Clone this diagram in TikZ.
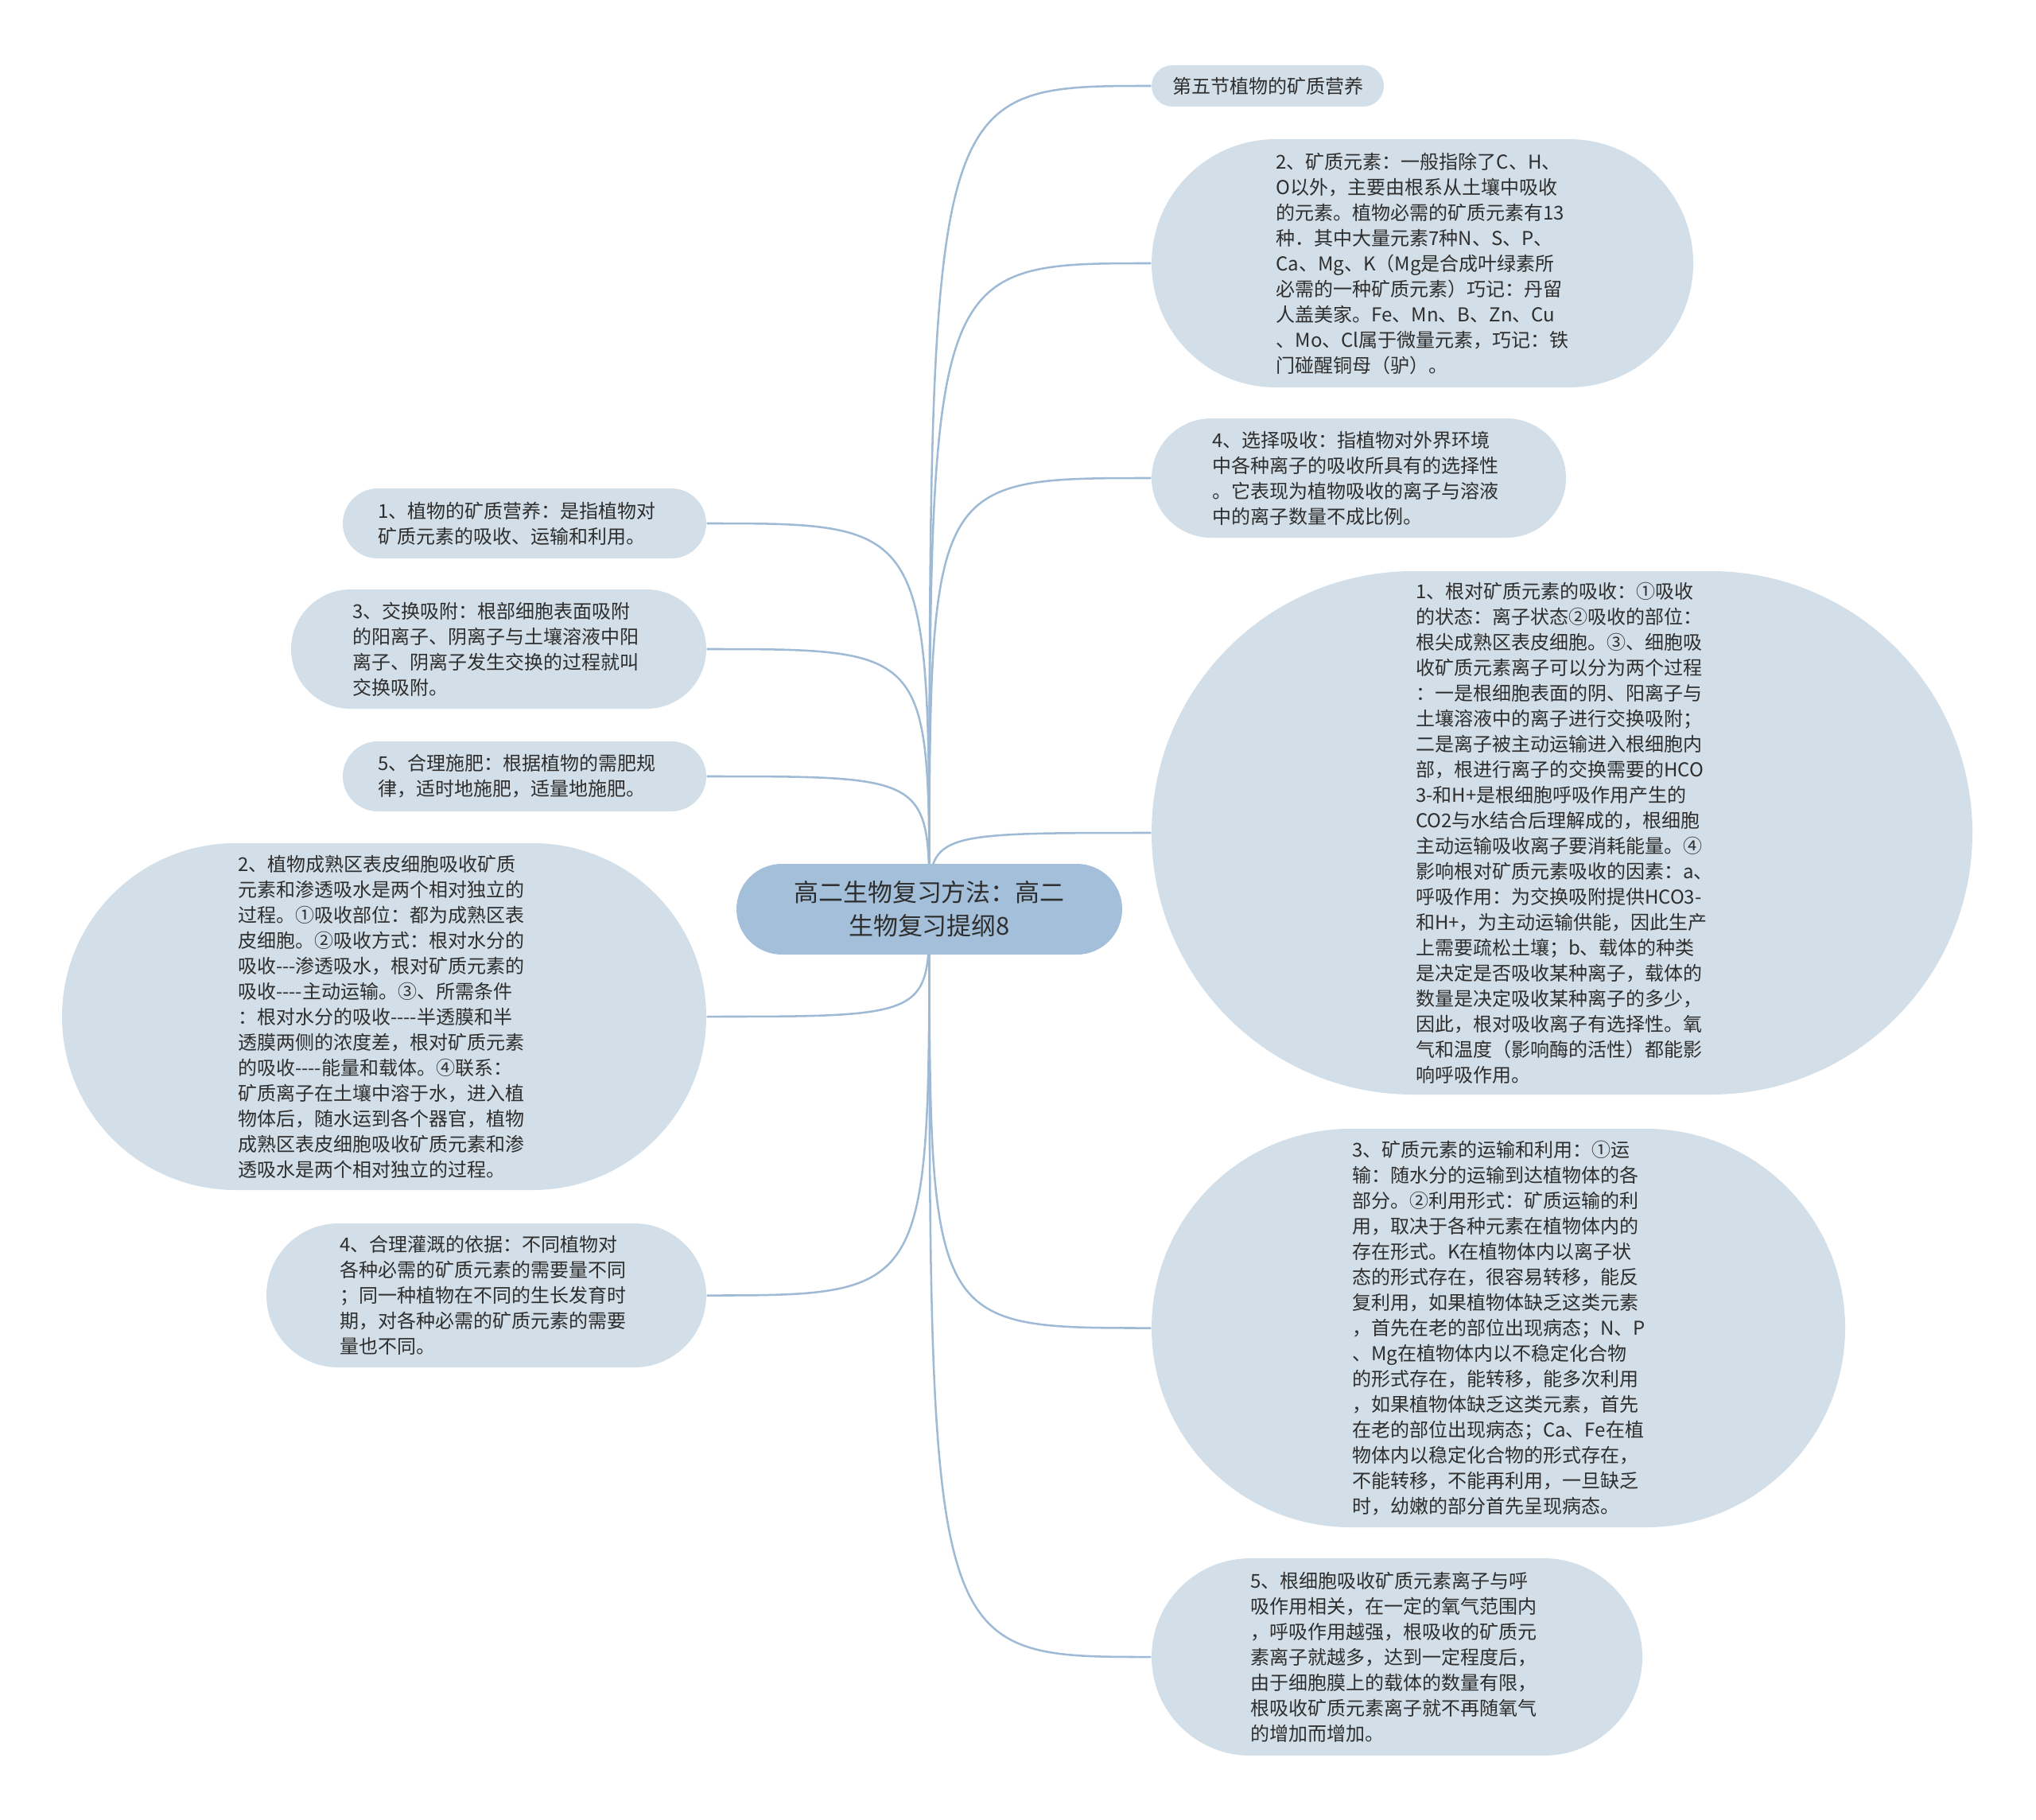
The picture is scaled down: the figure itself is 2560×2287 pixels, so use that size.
\documentclass[tikz,border=0pt]{standalone}
\usepackage{fontspec}
\newfontfamily\cjkfont{Noto Sans CJK SC}
\usetikzlibrary{shapes.misc}
\definecolor{hubblue}{HTML}{A3BFD9}
\definecolor{leafblue}{HTML}{D3DFE8}
\definecolor{linkblue}{HTML}{9FBAD4}
\definecolor{inkgray}{HTML}{2E2E2E}
\pgfdeclarelayer{background}
\pgfsetlayers{background,main}
\tikzset{
  leaf/.style 2 args={rounded rectangle,fill=leafblue,text=inkgray,
    minimum width=#1*0.375pt,minimum height=#2*0.375pt,inner sep=0pt,
    text width=138pt,align=left,font=\cjkfont\fontsize{9}{12}\selectfont},
  hubnode/.style={rounded rectangle,fill=hubblue,text=inkgray,
    minimum width=485*0.375pt,minimum height=114*0.375pt,inner sep=0pt,
    align=center,font=\cjkfont\fontsize{11.6}{15.8}\selectfont},
  link/.style={draw=linkblue,line width=0.95pt}
}

\begin{document}
\begin{tikzpicture}[x=0.375pt,y=-0.375pt]
    \useasboundingbox (0,0) rectangle (2560,2287);
    % centre
    \node[hubnode] (hub) at (1168.5,1143) {高二生物复习方法：高二\\生物复习提纲8};
    % right side
    \node[leaf={292}{52},text width=,align=center] (r1) at (1594,108) {第五节植物的矿质营养};
    \node[leaf={681}{312}] (r2) at (1788.5,331) {2、矿质元素：一般指除了C、H、\\O以外，主要由根系从土壤中吸收\\的元素。植物必需的矿质元素有13\\种．其中大量元素7种N、S、P、\\Ca、Mg、K（Mg是合成叶绿素所\\必需的一种矿质元素）巧记：丹留\\人盖美家。Fe、Mn、B、Zn、Cu\\、Mo、Cl属于微量元素，巧记：铁\\门碰醒铜母（驴）。};
    \node[leaf={521}{150}] (r3) at (1708.5,601) {4、选择吸收：指植物对外界环境\\中各种离子的吸收所具有的选择性\\。它表现为植物吸收的离子与溶液\\中的离子数量不成比例。};
    \node[leaf={1032}{658}] (r4) at (1964,1047) {1、根对矿质元素的吸收：①吸收\\的状态：离子状态②吸收的部位：\\根尖成熟区表皮细胞。③、细胞吸\\收矿质元素离子可以分为两个过程\\：一是根细胞表面的阴、阳离子与\\土壤溶液中的离子进行交换吸附；\\二是离子被主动运输进入根细胞内\\部，根进行离子的交换需要的HCO\\3-和H+是根细胞呼吸作用产生的\\CO2与水结合后理解成的，根细胞\\主动运输吸收离子要消耗能量。④\\影响根对矿质元素吸收的因素：a、\\呼吸作用：为交换吸附提供HCO3-\\和H+，为主动运输供能，因此生产\\上需要疏松土壤；b、载体的种类\\是决定是否吸收某种离子，载体的\\数量是决定吸收某种离子的多少，\\因此，根对吸收离子有选择性。氧\\气和温度（影响酶的活性）都能影\\响呼吸作用。};
    \node[leaf={872}{501}] (r5) at (1884,1669.5) {3、矿质元素的运输和利用：①运\\输：随水分的运输到达植物体的各\\部分。②利用形式：矿质运输的利\\用，取决于各种元素在植物体内的\\存在形式。K在植物体内以离子状\\态的形式存在，很容易转移，能反\\复利用，如果植物体缺乏这类元素\\，首先在老的部位出现病态；N、P\\、Mg在植物体内以不稳定化合物\\的形式存在，能转移，能多次利用\\，如果植物体缺乏这类元素，首先\\在老的部位出现病态；Ca、Fe在植\\物体内以稳定化合物的形式存在，\\不能转移，不能再利用，一旦缺乏\\时，幼嫩的部分首先呈现病态。};
    \node[leaf={617}{248}] (r6) at (1756.5,2083) {5、根细胞吸收矿质元素离子与呼\\吸作用相关，在一定的氧气范围内\\，呼吸作用越强，根吸收的矿质元\\素离子就越多，达到一定程度后，\\由于细胞膜上的载体的数量有限，\\根吸收矿质元素离子就不再随氧气\\的增加而增加。};
    % left side
    \node[leaf={457}{88}] (l1) at (659.5,658) {1、植物的矿质营养：是指植物对\\矿质元素的吸收、运输和利用。};
    \node[leaf={522}{150}] (l2) at (627,816) {3、交换吸附：根部细胞表面吸附\\的阳离子、阴离子与土壤溶液中阳\\离子、阴离子发生交换的过程就叫\\交换吸附。};
    \node[leaf={457}{88}] (l3) at (659.5,976) {5、合理施肥：根据植物的需肥规\\律，适时地施肥，适量地施肥。};
    \node[leaf={810}{436}] (l4) at (483,1278) {2、植物成熟区表皮细胞吸收矿质\\元素和渗透吸水是两个相对独立的\\过程。①吸收部位：都为成熟区表\\皮细胞。②吸收方式：根对水分的\\吸收---渗透吸水，根对矿质元素的\\吸收----主动运输。③、所需条件\\：根对水分的吸收----半透膜和半\\透膜两侧的浓度差，根对矿质元素\\的吸收----能量和载体。④联系：\\矿质离子在土壤中溶于水，进入植\\物体后，随水运到各个器官，植物\\成熟区表皮细胞吸收矿质元素和渗\\透吸水是两个相对独立的过程。};
    \node[leaf={553}{181}] (l5) at (611.5,1628.5) {4、合理灌溉的依据：不同植物对\\各种必需的矿质元素的需要量不同\\；同一种植物在不同的生长发育时\\期，对各种必需的矿质元素的需要\\量也不同。};
    % links
    \begin{pgfonlayer}{background}
      \foreach \n in {r1,r2,r3,r4,r5,r6}
        \draw[link] (hub.center) .. controls (hub.center |- \n.west) .. (\n.west);
      \foreach \n in {l1,l2,l3,l4,l5}
        \draw[link] (hub.center) .. controls (hub.center |- \n.east) .. (\n.east);
    \end{pgfonlayer}
  \end{tikzpicture}
\end{document}
